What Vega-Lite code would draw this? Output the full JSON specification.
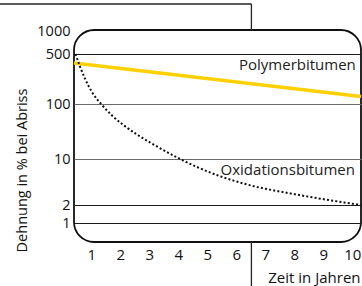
{
  "$schema": "https://vega.github.io/schema/vega-lite/v6.json",
  "width": 287,
  "height": 212,
  "autosize": {"type": "none"},
  "padding": {"left": 74, "top": 30, "right": 1, "bottom": 44},
  "config": {
    "font": "Open Sans",
    "view": {"stroke": "#111", "strokeWidth": 1.8, "cornerRadius": 20}
  },
  "datasets": {
    "deco": [
      {"x": -2.2, "x2": 6.52, "y": 2256, "y2": 2256},
      {"x": 6.52, "x2": 6.52, "y": 2256, "y2": 1030},
      {"x": 6.52, "x2": 6.52, "y": 0.505, "y2": 0.1}
    ],
    "poly": [
      {"x": 0.4, "y": 374},
      {"x": 10.3, "y": 127}
    ],
    "oxid": [
      {"x": 0.452, "y": 500},
      {"x": 0.607, "y": 333},
      {"x": 0.779, "y": 226},
      {"x": 1.021, "y": 147},
      {"x": 1.348, "y": 98.4},
      {"x": 1.71, "y": 62},
      {"x": 2.09, "y": 42},
      {"x": 2.572, "y": 27.9},
      {"x": 3.09, "y": 19.1},
      {"x": 3.952, "y": 10.7},
      {"x": 5.434, "y": 5.48},
      {"x": 6.503, "y": 3.96},
      {"x": 7.952, "y": 2.95},
      {"x": 10.297, "y": 2.0}
    ],
    "labels": [
      {"x": 10.12, "y": 351, "label": "Polymerbitumen"},
      {"x": 10.09, "y": 6.8, "label": "Oxidationsbitumen"}
    ]
  },
  "encoding": {
    "x": {
      "field": "x",
      "type": "quantitative",
      "scale": {"domain": [0.4, 10.3], "nice": false, "zero": false},
      "axis": {
        "values": [1, 2, 3, 4, 5, 6, 7, 8, 9, 10],
        "ticks": false,
        "domain": false,
        "grid": false,
        "labelFlush": false,
        "labelFontSize": 15,
        "labelPadding": 5,
        "labelColor": "#111",
        "title": "Zeit in Jahren",
        "titleFontSize": 15,
        "titleFontWeight": "normal",
        "titleColor": "#111",
        "titleX": 286,
        "titleY": 40,
        "titleAlign": "right",
        "titleBaseline": "alphabetic"
      }
    },
    "y": {
      "field": "y",
      "type": "quantitative",
      "scale": {
        "type": "log",
        "domain": [0.505, 1, 2, 10, 100, 500, 1000],
        "range": [212, 193, 175, 129, 74, 24, 1],
        "nice": false
      },
      "axis": {
        "values": [1, 2, 10, 100, 500, 1000],
        "format": "d",
        "ticks": false,
        "domain": false,
        "grid": true,
        "gridColor": {"condition": {"test": "datum.value == 100 || datum.value == 10", "value": "#6b6b6b"}, "value": "#1a1a1a"},
        "gridOpacity": {"condition": {"test": "datum.value == 1000", "value": 0}, "value": 1},
        "gridWidth": 1.2,
        "labelFontSize": 14.5,
        "labelPadding": 4,
        "labelBaseline": "middle",
        "labelColor": "#111",
        "labelOverlap": false,
        "title": "Dehnung in % bei Abriss",
        "titleFontSize": 14.5,
        "titleFontWeight": "normal",
        "titleColor": "#111",
        "titleX": -52,
        "titleY": 140,
        "titleAngle": 270,
        "titleAlign": "center",
        "titleBaseline": "middle"
      }
    }
  },
  "layer": [
    {
      "data": {"name": "deco"},
      "mark": {"type": "rule", "color": "#222", "strokeWidth": 1.3, "clip": false},
      "encoding": {
        "x2": {"field": "x2"},
        "y2": {"field": "y2"}
      }
    },
    {
      "data": {"name": "poly"},
      "mark": {"type": "line", "color": "#FFD100", "strokeWidth": 3.5}
    },
    {
      "data": {"name": "oxid"},
      "mark": {"type": "line", "color": "#111", "strokeWidth": 2, "strokeDash": [2, 2.2], "strokeCap": "butt", "interpolate": "monotone"}
    },
    {
      "data": {"name": "labels"},
      "mark": {"type": "text", "align": "right", "baseline": "middle", "fontSize": 15, "color": "#222"},
      "encoding": {"text": {"field": "label"}}
    }
  ]
}
